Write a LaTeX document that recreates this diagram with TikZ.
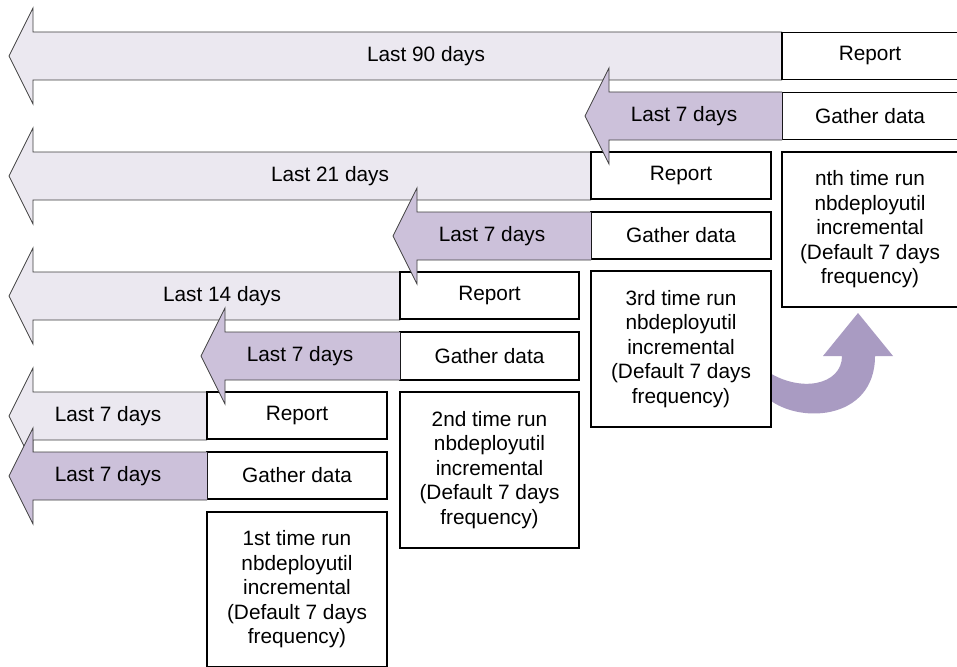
\documentclass[tikz,border=0pt]{standalone}
\usepackage{fontspec}
\setmainfont{Liberation Sans}
\definecolor{grayfill}{HTML}{EBE8F0}
\definecolor{purplefill}{HTML}{CCC1DA}
\definecolor{curvefill}{HTML}{A99BC2}
\definecolor{outline}{HTML}{404040}
\newcommand\leftarrowshape[4]{%
  \fill[#4] (#3,{#2-24}) -- ({#1+24},{#2-24}) -- ({#1+24},{#2-48}) -- (#1,#2) -- ({#1+24},{#2+48}) -- ({#1+24},{#2+24}) -- (#3,{#2+24}) -- cycle;
  \draw[arrowline] (#3,{#2-24}) -- ({#1+24},{#2-24}) -- ({#1+24},{#2-48}) -- (#1,#2) -- ({#1+24},{#2+48}) -- ({#1+24},{#2+24}) -- (#3,{#2+24});
}
\begin{document}
\begin{tikzpicture}[x=1pt,y=-1pt,
  txt/.style={font=\fontsize{20.8}{24.5}\selectfont, inner sep=0pt},
  arrowline/.style={draw=outline, line width=0.8pt, line join=miter},
  box/.style={draw=black, fill=white, line width=1.3pt, font=\fontsize{20.8}{24.5}\selectfont, align=center, inner sep=0pt, minimum width=#1},
  box/.default=180pt,
  smallbox/.style={box=#1, minimum height=47pt},
  smallbox/.default=180pt,
  tallbox/.style={box=#1, minimum height=155pt},
  tallbox/.default=180pt]
\useasboundingbox (0,0) rectangle (957,666);
\fill[white] (0,0) rectangle (957,666);

% gray arrows (report periods)
\leftarrowshape{9}{56}{782}{grayfill}
\leftarrowshape{9}{176}{591}{grayfill}
\leftarrowshape{9}{296}{400}{grayfill}
\leftarrowshape{9}{416}{207}{grayfill}

% curved arrow
\fill[curvefill] (765,396) .. controls (795,425) and (875,422) .. (875,356)
  -- (893,356) -- (858,313) -- (823,356) -- (842,356)
  .. controls (842,385) and (800,394) .. (765,370) -- cycle;

% column 4
\node[smallbox=176pt] (r4) at (870,56) {Report};
\node[smallbox=176pt] (g4) at (870,116) {Gather data};
\node[tallbox=176pt] (t4) at (870,229.5) {nth time run\\nbdeployutil\\incremental\\(Default 7 days\\frequency)};
% column 3
\node[smallbox] (r3) at (681,175.5) {Report};
\node[smallbox] (g3) at (681,235.5) {Gather data};
\node[tallbox=180pt, minimum height=156pt] (t3) at (681,349) {3rd time run\\nbdeployutil\\incremental\\(Default 7 days\\frequency)};
% column 2
\node[smallbox=179pt] (r2) at (489.5,295.5) {Report};
\node[smallbox=179pt, minimum height=48pt] (g2) at (489.5,356) {Gather data};
\node[tallbox=179pt, minimum height=156pt] (t2) at (489.5,470) {2nd time run\\nbdeployutil\\incremental\\(Default 7 days\\frequency)};
% column 1
\node[smallbox] (r1) at (297,415.5) {Report};
\node[smallbox] (g1) at (297,475.5) {Gather data};
\node[tallbox] (t1) at (297,589.5) {1st time run\\nbdeployutil\\incremental\\(Default 7 days\\frequency)};

% purple arrows (gather periods)
\leftarrowshape{585}{116}{782}{purplefill}
\leftarrowshape{393}{236}{591}{purplefill}
\leftarrowshape{201}{356}{400}{purplefill}
\leftarrowshape{9}{476}{207}{purplefill}

% labels
\node[txt] (l1) at (426,56) {Last 90 days};
\node[txt] (l2) at (684,116) {Last 7 days};
\node[txt] (l3) at (330,176) {Last 21 days};
\node[txt] (l4) at (492,236) {Last 7 days};
\node[txt] (l5) at (222,296) {Last 14 days};
\node[txt] (l6) at (300,356) {Last 7 days};
\node[txt] (l7) at (108,416) {Last 7 days};
\node[txt] (l8) at (108,476) {Last 7 days};
\end{tikzpicture}
\end{document}
